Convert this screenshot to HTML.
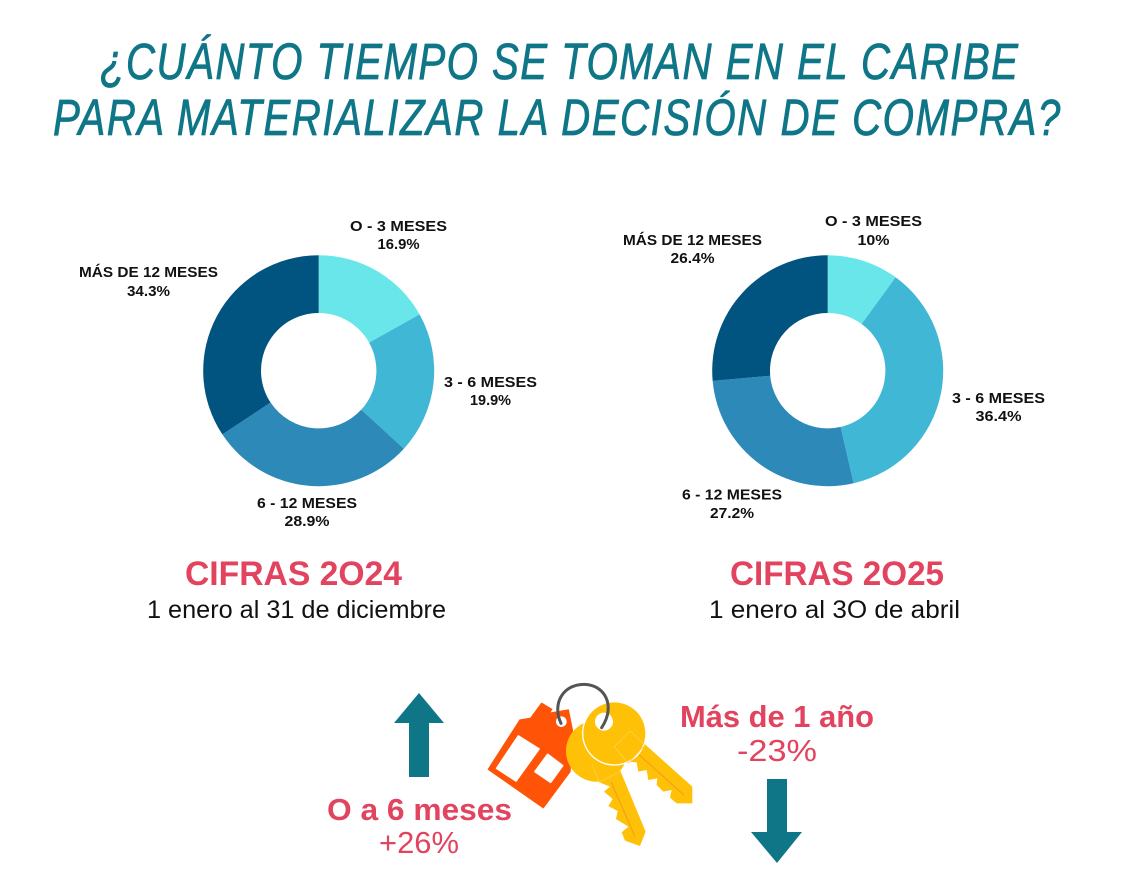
<!DOCTYPE html>
<html lang="es">
<head>
<meta charset="utf-8">
<title>¿Cuánto tiempo se toman en el Caribe para materializar la decisión de compra?</title>
<style>
html,body{margin:0;padding:0;background:#fff;}
svg{display:block;}
text{font-family:"Liberation Sans",sans-serif;}
.lbl{font-size:14.5px;font-weight:bold;fill:#111;}
.head{font-size:34px;font-weight:bold;fill:#e2435f;}
.sub{font-size:25px;fill:#111;}
.kpi{font-size:31px;font-weight:bold;fill:#e2435f;}
.pct{font-size:31px;fill:#e2435f;}
.title{font-size:51px;font-style:italic;fill:#0f7688;stroke:#0f7688;stroke-width:.8;stroke-linejoin:round;}
</style>
</head>
<body>
<svg id="chart" width="1137" height="887" viewBox="0 0 1137 887" xmlns="http://www.w3.org/2000/svg">
  <rect width="1137" height="887" fill="#ffffff"/>

  <g transform="scale(.79 1)">
    <text class="title" x="126.6" y="79" textLength="1162" lengthAdjust="spacing">¿CUÁNTO TIEMPO SE TOMAN EN EL CARIBE</text>
    <text class="title" x="67.1" y="135" textLength="1275" lengthAdjust="spacing">PARA MATERIALIZAR LA DECISIÓN DE COMPRA?</text>
  </g>

  <g id="donut-layer"></g>
  <g id="label-layer"></g>

  <text class="head" x="185" y="585" textLength="217" lengthAdjust="spacingAndGlyphs">CIFRAS 2O24</text>
  <text class="sub" x="147" y="618" textLength="299" lengthAdjust="spacingAndGlyphs">1 enero al 31 de diciembre</text>
  <text class="head" x="730" y="585" textLength="214" lengthAdjust="spacingAndGlyphs">CIFRAS 2O25</text>
  <text class="sub" x="709" y="618" textLength="251" lengthAdjust="spacingAndGlyphs">1 enero al 3O de abril</text>

  <polygon points="394,723 419,693 444,723 429,723 429,777 409,777 409,723" fill="#0f7688"/>
  <polygon points="767,779 787,779 787,832 802,832 777,863 751,832 767,832" fill="#0f7688"/>

  <text class="kpi" x="327" y="820" textLength="185" lengthAdjust="spacingAndGlyphs">O a 6 meses</text>
  <text class="pct" x="379" y="853" textLength="80" lengthAdjust="spacingAndGlyphs">+26%</text>
  <text class="kpi" x="680" y="727" textLength="194" lengthAdjust="spacingAndGlyphs">Más de 1 año</text>
  <text class="pct" x="737" y="761" textLength="80" lengthAdjust="spacingAndGlyphs">-23%</text>

  <g transform="translate(480 675) scale(.3333)">
    <polygon points="25,283 120,135 152,130 185,85 215,103 208,115 265,105 277,165 270,290 190,398" fill="#ff5408" stroke="#ff5408" stroke-width="4" stroke-linejoin="round"/>
    <polygon points="115,183 177,222 108,318 50,280" fill="#fff" stroke="#fff" stroke-width="5" stroke-linejoin="round"/>
    <polygon points="203,238 248,272 212,322 165,290" fill="#fff" stroke="#fff" stroke-width="5" stroke-linejoin="round"/>
    <circle cx="244" cy="140" r="16" fill="#fff"/>
    <polygon points="420,285 497,470 480,513 435,497 425,472 445,455 408,432 413,408 385,393 398,372 372,350 390,335 358,322" fill="#ffc107"/>
    <circle cx="350" cy="228" r="92" fill="#ffc107"/>
    <polygon points="495,208 637,335 637,385 590,385 570,368 575,345 550,350 530,330 532,310 505,315 500,285 475,290 470,262 440,260" fill="#ffc107"/>
    <circle cx="403" cy="175" r="97" fill="#fff"/>
    <circle cx="403" cy="175" r="93" fill="#ffc107"/>
    <polygon points="450,168 495,210 445,265 403,215" fill="none" stroke="#ffd351" stroke-width="2"/>
    <polyline points="335,265 358,322 420,290" fill="none" stroke="#ffd351" stroke-width="2"/>
    <circle cx="372" cy="140" r="27" fill="#fff"/>
    <line x1="393" y1="320" x2="465" y2="485" stroke="#f39a1c" stroke-width="3"/>
    <line x1="478" y1="240" x2="612" y2="360" stroke="#f39a1c" stroke-width="3"/>
    <path d="M243,145 C215,85 250,28 312,28 C372,28 410,90 365,158" fill="none" stroke="#555" stroke-width="9" stroke-linecap="round"/>
  </g>
</svg>
<script>
var categories = ['O - 3 MESES', '3 - 6 MESES', '6 - 12 MESES', 'MÁS DE 12 MESES'];
var values2024 = [16.9, 19.9, 28.9, 34.3];
var values2025 = [10, 36.4, 27.2, 26.4];

var colors = ['#69e6ea', '#41b7d6', '#2d8ab8', '#025480'];
var donutGeometry = { outer: 115.5, inner: 57.7, cy: 370.7 };
var NS = 'http://www.w3.org/2000/svg';

function angleOf(share) {
  return share / 100 * 2 * Math.PI;
}
function polar(cx, cy, r, a) {
  return [cx + r * Math.sin(a), cy - r * Math.cos(a)];
}
function arcPath(cx, cy, a0, a1) {
  var R = donutGeometry.outer, r = donutGeometry.inner;
  var large = a1 - a0 > Math.PI ? 1 : 0;
  var p0 = polar(cx, cy, R, a0), p1 = polar(cx, cy, R, a1);
  var p2 = polar(cx, cy, r, a1), p3 = polar(cx, cy, r, a0);
  return 'M' + p0[0] + ' ' + p0[1] +
    'A' + R + ' ' + R + ' 0 ' + large + ' 1 ' + p1[0] + ' ' + p1[1] +
    'L' + p2[0] + ' ' + p2[1] +
    'A' + r + ' ' + r + ' 0 ' + large + ' 0 ' + p3[0] + ' ' + p3[1] + 'Z';
}
function drawDonut(values, cx, year) {
  var layer = document.getElementById('donut-layer');
  var total = values.reduce(function (s, v) { return s + v; }, 0);
  var cum = 0;
  values.forEach(function (v, i) {
    var a0 = angleOf(cum / total * 100);
    cum += v;
    var a1 = angleOf(cum / total * 100);
    var path = document.createElementNS(NS, 'path');
    path.setAttribute('d', arcPath(cx, donutGeometry.cy, a0, a1));
    path.setAttribute('fill', colors[i]);
    
    
    layer.appendChild(path);
  });
}
function addLabel(str, cx, y, width, name) {
  var t = document.createElementNS(NS, 'text');
  t.setAttribute('class', 'lbl');
  t.setAttribute('x', cx - width / 2);
  t.setAttribute('y', y);
  t.setAttribute('textLength', width);
  t.setAttribute('lengthAdjust', 'spacingAndGlyphs');
  
  
  t.textContent = str;
  document.getElementById('label-layer').appendChild(t);
}
function drawLabels(values, year, layout) {
  values.forEach(function (v, i) {
    var l = layout[i];
    addLabel(categories[i], l.x, l.y, l.w, 'slice-label-' + year + '-' + (i + 1));
    addLabel(v + '%', l.x + (l.dx || 0), l.y2, l.w2, 'slice-value-' + year + '-' + (i + 1));
  });
}

drawDonut(values2024, 318.7, '2024');
drawDonut(values2025, 827.7, '2025');
drawLabels(values2024, '2024', [
  { x: 398.5, y: 231, y2: 249, w: 97, w2: 42 },
  { x: 490.5, y: 387, y2: 405, w: 93, w2: 41 },
  { x: 307, y: 508, y2: 526, w: 100, w2: 45 },
  { x: 148.5, y: 277, y2: 296, w: 139, w2: 43 }
]);
drawLabels(values2025, '2025', [
  { x: 873.5, y: 226, y2: 245, w: 97, w2: 32 },
  { x: 998.5, y: 403, y2: 421, w: 93, w2: 46 },
  { x: 732, y: 499.5, y2: 518, w: 100, w2: 44 },
  { x: 692.5, y: 245, y2: 263, w: 139, w2: 44 }
]);
</script>
</body>
</html>
